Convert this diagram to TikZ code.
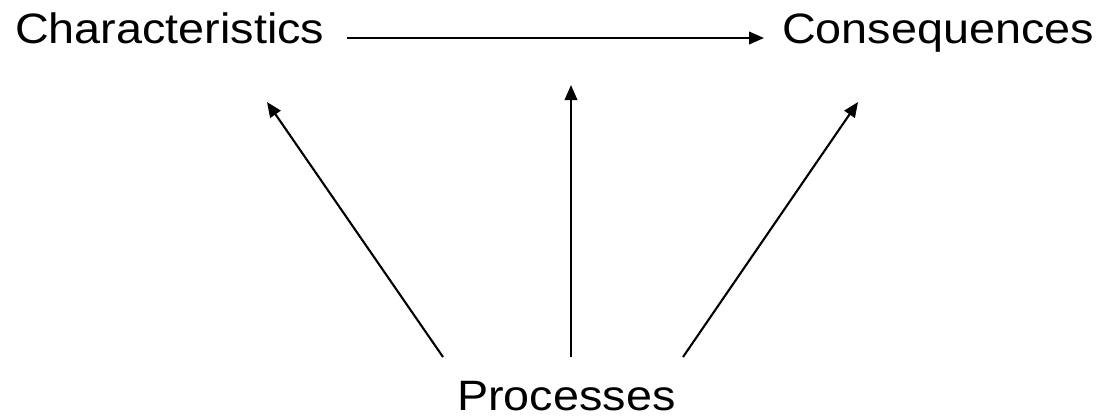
\documentclass[tikz,border=0pt]{standalone}
\usepackage{fontspec}
\setmainfont{Liberation Sans}
\newfontfamily\lblfont[FakeStretch=1.1]{Liberation Sans}
\usetikzlibrary{arrows.meta}
\begin{document}
\begin{tikzpicture}[x=1pt,y=-1pt,
  lbl/.style={inner sep=0pt,font=\lblfont\fontsize{42.5}{50}\selectfont},
  conn/.style={line width=2.1pt,-{Triangle[length=15pt,width=12.5pt]}}]
\useasboundingbox (0,0) rectangle (1107,418);
\node[lbl,anchor=base west] (char) at (15,43) {Characteristics};
\node[lbl,anchor=base west] (cons) at (782,43) {Consequences};
\node[lbl,anchor=base west] (proc) at (457,410) {Processes};
\coordinate (hs) at (347,38);
\coordinate (he) at (764,38);
\coordinate (l0) at (443,357);
\coordinate (l1) at (267,102);
\coordinate (m0) at (571,357);
\coordinate (m1) at (571,85);
\coordinate (r0) at (683,357);
\coordinate (r1) at (858,102);
\draw[conn] (hs) -- (he);
\draw[conn] (l0) -- (l1);
\draw[conn] (m0) -- (m1);
\draw[conn] (r0) -- (r1);
\end{tikzpicture}
\end{document}
